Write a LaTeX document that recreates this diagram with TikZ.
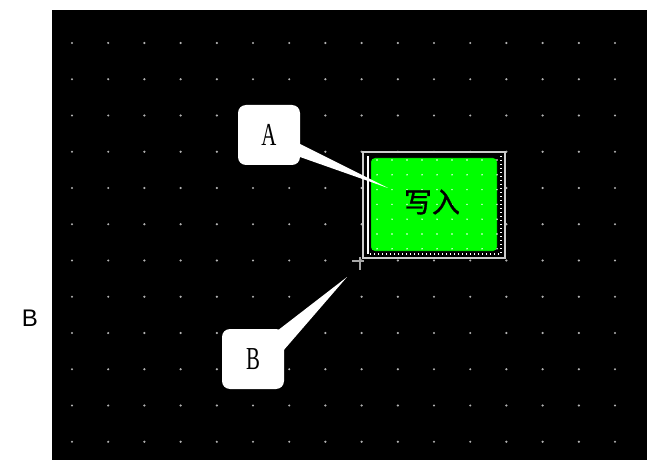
\documentclass[tikz,border=0pt]{standalone}
\usepackage{fontspec}
\usetikzlibrary{calc}
\setmainfont{Liberation Serif}
\newfontfamily\cjk[FakeBold=1.2]{Noto Sans CJK SC}
\newfontfamily\arialf{Liberation Sans}
\begin{document}
\begin{tikzpicture}[x=0.75pt,y=-0.75pt,
  callout/.style={fill=white,rounded corners=6pt,minimum width=46.5pt,minimum height=45pt,inner sep=0pt,font=\fontsize{24}{24}\selectfont},
  griddot/.style={fill=gray!60!white},
  btnframe/.style={draw=gray!40,line width=1.2pt}]
\useasboundingbox (0,0) rectangle (647,460);
\fill[white] (0,0) rectangle (647,460);
\fill[black] (52,10) rectangle (647,460);
% grid dots
\foreach \i in {0,...,15}{
  \foreach \j in {0,...,11}{
    \fill[griddot] ({72+36.2*\i},{43+36.25*\j}) circle (1.2);
  }
}
% button
\draw[btnframe] (363,152) rectangle (505,258);
\draw[white,line width=0.9pt] (368,156) -- (368,254);
\fill[green!90!black,rounded corners=3pt] (371,158) rectangle (497,251);
\fill[green] (372,159) rectangle (496,250);
\foreach \i in {0,...,8}{
  \foreach \j in {0,...,6}{
    \fill[white] ({377+15*\i},{160+14.8*\j}) circle (0.8);
  }
}
\draw[white,line width=1pt,dotted] (501,156) -- (501,254) -- (368,254);
\node[font=\cjk\fontsize{21}{21}\selectfont,text=black] (btn) at (432,202) {写入};
% crosshair
\coordinate (cross) at (360,261);
\draw[gray!70,line width=0.9pt] ($(cross)+(-8,0)$) -- ($(cross)+(4,0)$);
\draw[gray!70,line width=0.9pt] ($(cross)+(0,-4)$) -- ($(cross)+(0,9)$);
% callout A
\node[callout] (ca) at (269,135) {\scalebox{0.65}[1]{A}};
\coordinate (tipA) at (388,188);
\fill[white] (294,141) -- (tipA) -- (300,157) -- cycle;
% callout B
\node[callout] (cb) at (253,359) {\scalebox{0.65}[1]{B}};
\coordinate (tipB) at (347,277);
\fill[white] (277,331) -- (tipB) -- (283,351) -- cycle;
% side label
\node[font=\arialf\fontsize{18}{18}\selectfont] (lb) at (30,318) {B};
\end{tikzpicture}
\end{document}
